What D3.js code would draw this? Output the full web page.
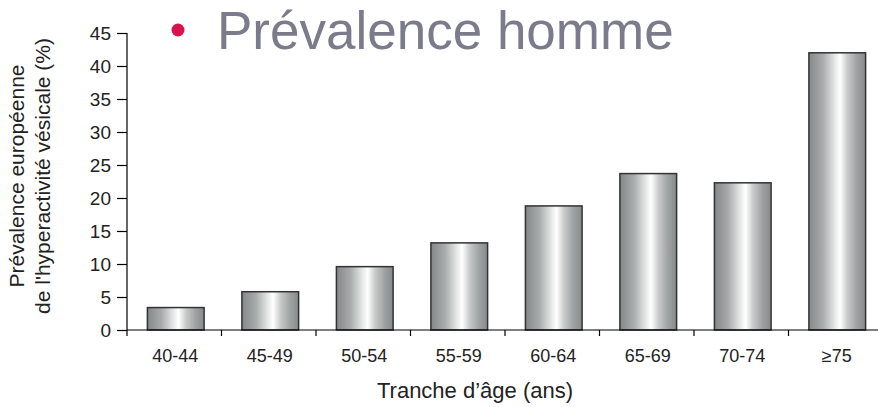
<!DOCTYPE html>
<html>
<head>
<meta charset="utf-8">
<script src="https://cdn.jsdelivr.net/npm/d3@7"></script>
<style>
  html, body { margin: 0; padding: 0; background: #fff; }
  svg { display: block; font-family: "Liberation Sans", Arial, Helvetica, sans-serif; }
</style>
</head>
<body>
<svg id="chart" width="878" height="407"></svg>
<script>
// Age bands and prevalence (%) of overactive bladder among men
const categories = ["40-44", "45-49", "50-54", "55-59", "60-64", "65-69", "70-74", "≥75"];
const values = [3.4, 5.8, 9.6, 13.2, 18.8, 23.7, 22.3, 42.0];
const yTicks = [0, 5, 10, 15, 20, 25, 30, 35, 40, 45];

const svg = d3.select("#chart");
const margin = { left: 127, top: 33, bottom: 330 };
const bandWidth = 94.5;

const x = d3.scaleBand()
  .domain(categories)
  .range([margin.left, margin.left + bandWidth * categories.length])
  .paddingInner(0.4)
  .paddingOuter(0.2);

const y = d3.scaleLinear().domain([0, 45]).range([margin.bottom, margin.top]);

// Cylinder-like horizontal shading for the bars
const defs = svg.append("defs");
const grad = defs.append("linearGradient").attr("id", "barShade")
  .attr("x1", "0%").attr("x2", "100%").attr("y1", "0%").attr("y2", "0%");
[
  [0, "#858888"], [0.25, "#a9acac"], [0.45, "#e4e6e6"], [0.55, "#ffffff"],
  [0.68, "#c9cbcb"], [0.85, "#9fa2a2"], [1, "#878a8a"]
].forEach(([o, c]) => grad.append("stop").attr("offset", o).attr("stop-color", c));

// Title with bullet
svg.append("circle").attr("cx", 178).attr("cy", 30).attr("r", 6.5).attr("fill", "#d9134f");
svg.append("text").attr("x", 217).attr("y", 49)
  .attr("font-size", 53).attr("fill", "#7b7b8b")
  .text("Prévalence homme");

// Bars
svg.append("g").selectAll("rect").data(values).join("rect")
  .attr("x", (d, i) => x(categories[i]) + 1.5)
  .attr("y", d => y(d))
  .attr("width", x.bandwidth())
  .attr("height", d => y(0) - y(d))
  .attr("fill", "url(#barShade)")
  .attr("stroke", "#333")
  .attr("stroke-width", 1.5);

// Y axis
const yAxis = svg.append("g").attr("transform", `translate(${margin.left},0)`)
  .call(d3.axisLeft(y).tickValues(yTicks).tickSize(10).tickPadding(6));
yAxis.select(".domain").attr("d", `M0,${y(45)}V${y(0)}`);

// X axis with separators between bands
const xAxisG = svg.append("g").attr("transform", `translate(0,${y(0)})`);
xAxisG.append("line").attr("x1", margin.left).attr("x2", 878).attr("stroke", "#000").attr("stroke-width", 1.2);
const sepTicks = d3.range(categories.length + 1).map(i => margin.left + i * bandWidth);
xAxisG.selectAll("line.sep").data(sepTicks).join("line").attr("class", "sep")
  .attr("x1", d => d).attr("x2", d => d).attr("y1", 0).attr("y2", 6)
  .attr("stroke", "#000").attr("stroke-width", 1.2);
xAxisG.selectAll("text").data(categories).join("text")
  .attr("x", d => x(d) + x.bandwidth() / 2 + 1)
  .attr("y", 32)
  .attr("text-anchor", "middle")
  .attr("font-size", 18).attr("fill", "#222")
  .text(d => d);

svg.selectAll(".tick text").attr("font-size", 19).attr("fill", "#222")
  .attr("font-family", "Liberation Sans, Arial, sans-serif");
svg.selectAll(".domain, .tick line").attr("stroke", "#000").attr("stroke-width", 1.2);

// Axis titles
svg.append("text").attr("x", 475).attr("y", 398).attr("text-anchor", "middle")
  .attr("font-size", 22).attr("fill", "#222").text("Tranche d’âge (ans)");
const yTitle = svg.append("text")
  .attr("transform", `translate(0,176) rotate(-90)`)
  .attr("text-anchor", "middle").attr("font-size", 21).attr("fill", "#222");
yTitle.append("tspan").attr("x", 0).attr("y", 24).text("Prévalence européenne");
yTitle.append("tspan").attr("x", 0).attr("y", 50).text("de l'hyperactivité vésicale (%)");
</script>
</body>
</html>
